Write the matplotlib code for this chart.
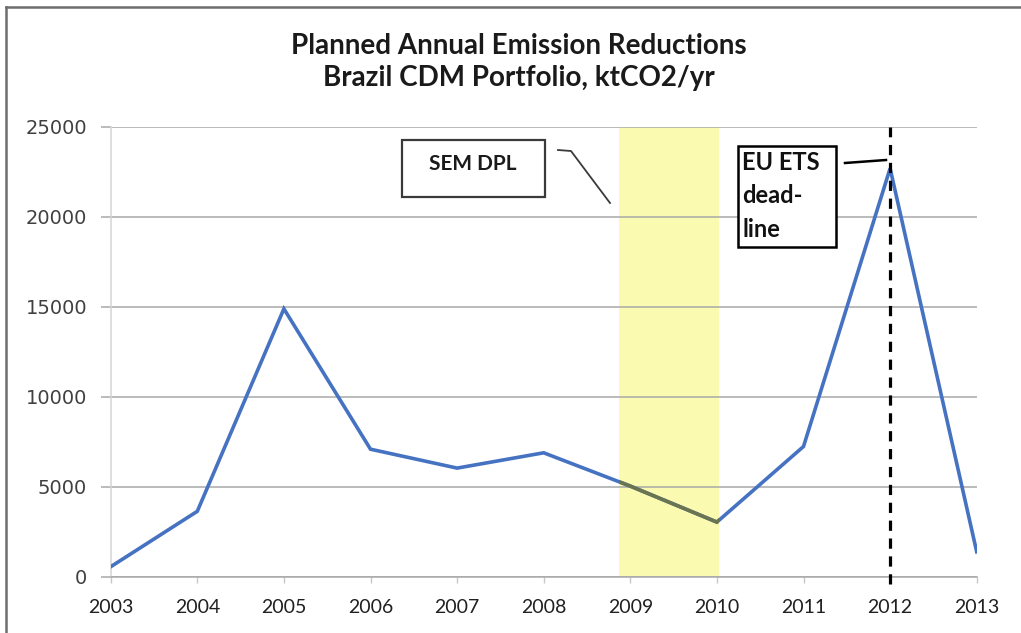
import matplotlib
matplotlib.use("Agg")
import matplotlib.pyplot as plt
from matplotlib.patches import Rectangle
from matplotlib.lines import Line2D

# ---- data ----
years = [2003, 2004, 2005, 2006, 2007, 2008, 2009, 2010, 2011, 2012, 2013]
reductions = [570, 3650, 14900, 7100, 6050, 6900, 5050, 3050, 7250, 22700, 1400]
yticks = [0, 5000, 10000, 15000, 20000, 25000]
band_start, band_end = 2008.87, 2010.03
deadline_year = 2012
title = "Planned Annual Emission Reductions\nBrazil CDM Portfolio, ktCO2/yr"
sem_label = "SEM DPL"
eu_label = "EU ETS\ndead-\nline"

W, H = 1021, 633
fig = plt.figure(figsize=(W / 100, H / 100), dpi=100)
fig.patch.set_facecolor("white")

ax_l, ax_r, ax_t, ax_b = 110.7, 976.7, 127, 577
ax = fig.add_axes([ax_l / W, 1 - ax_b / H, (ax_r - ax_l) / W, (ax_b - ax_t) / H])

ax.plot(years, reductions, color="#4672c2", lw=2.6, zorder=3, solid_joinstyle="miter")
band = ax.axvspan(band_start, band_end, ymin=0, ymax=1, color="#fafab0", lw=0, zorder=0.3)
# line as seen through the translucent band
inner, = ax.plot(years, reductions, color="#6a7550", lw=2.6, zorder=4, solid_joinstyle="miter")
inner.set_clip_path(band)
ax.plot([deadline_year, deadline_year], [-400, 25000], color="black", lw=2.3,
        linestyle=(0, (3.2, 2.4)), zorder=5, clip_on=False)

ax.set_xlim(years[0], years[-1])
ax.set_ylim(0, 25000)
ax.set_xticks(years)
ax.set_xticklabels([str(y) for y in years], fontfamily="Lato", fontsize=14, color="#202020")
ax.set_yticks(yticks)
ax.set_yticklabels([str(v) for v in yticks], fontfamily="DejaVu Sans", fontsize=14, color="#404040")

ax.set_axisbelow(True)
ax.grid(axis="y", color="#a8a8a8", lw=1.1)
for s in ["top", "right"]:
    ax.spines[s].set_visible(False)
ax.spines["left"].set_color("#d4d4d4")
ax.spines["left"].set_linewidth(1.1)
ax.spines["bottom"].set_color("#a8a8a8")
ax.spines["bottom"].set_linewidth(1.1)
ax.tick_params(axis="y", length=7, width=1.1, color="#a8a8a8", pad=10)
ax.tick_params(axis="x", length=4, width=1.0, color="#c8c8c8", pad=12)

# title
fig.text(519 / W, 1 - 62 / H, title, ha="center", va="center", fontfamily="Lato",
         fontweight="bold", fontsize=20, color="#1a1a1a", linespacing=1.25)

def fx(px):
    return (px - ax_l) / (ax_r - ax_l)

def fy(py):
    return (ax_b - py) / (ax_b - ax_t)

# SEM DPL box
ax.add_patch(Rectangle((fx(402), fy(197)), fx(545) - fx(402), fy(140) - fy(197),
                       transform=ax.transAxes, fill=True, facecolor="white",
                       edgecolor="#3a3a3a", lw=1.6, zorder=6, clip_on=False))
ax.text(fx(473), fy(164), sem_label, transform=ax.transAxes, ha="center", va="center",
        fontfamily="Lato", fontweight="bold", fontsize=15, color="#1a1a1a", zorder=7)
ax.add_line(Line2D([fx(558), fx(571), fx(610)], [fy(150), fy(151), fy(203)],
                   transform=ax.transAxes, color="#3a3a3a", lw=1.3, zorder=6, clip_on=False))

# EU ETS box
ax.add_patch(Rectangle((fx(738), fy(247)), fx(836) - fx(738), fy(146) - fy(247),
                       transform=ax.transAxes, fill=True, facecolor="white",
                       edgecolor="black", lw=1.8, zorder=6, clip_on=False))
ax.text(fx(742), fy(151), eu_label, transform=ax.transAxes, ha="left", va="top",
        fontfamily="Lato", fontweight="bold", fontsize=17, color="#111111",
        linespacing=1.55, zorder=7)
ax.add_line(Line2D([fx(845), fx(886)], [fy(163), fy(160)],
                   transform=ax.transAxes, color="black", lw=1.8, zorder=6, clip_on=False))

# outer frame (top and left)
fig.add_artist(Line2D([6 / W, 1.0], [1 - 7 / H, 1 - 7 / H], transform=fig.transFigure,
                      color="#6e6e6e", lw=1.8))
fig.add_artist(Line2D([6 / W, 6 / W], [0, 1 - 7 / H], transform=fig.transFigure,
                      color="#6e6e6e", lw=1.8))

fig.savefig("out.png", dpi=100, facecolor="white")
